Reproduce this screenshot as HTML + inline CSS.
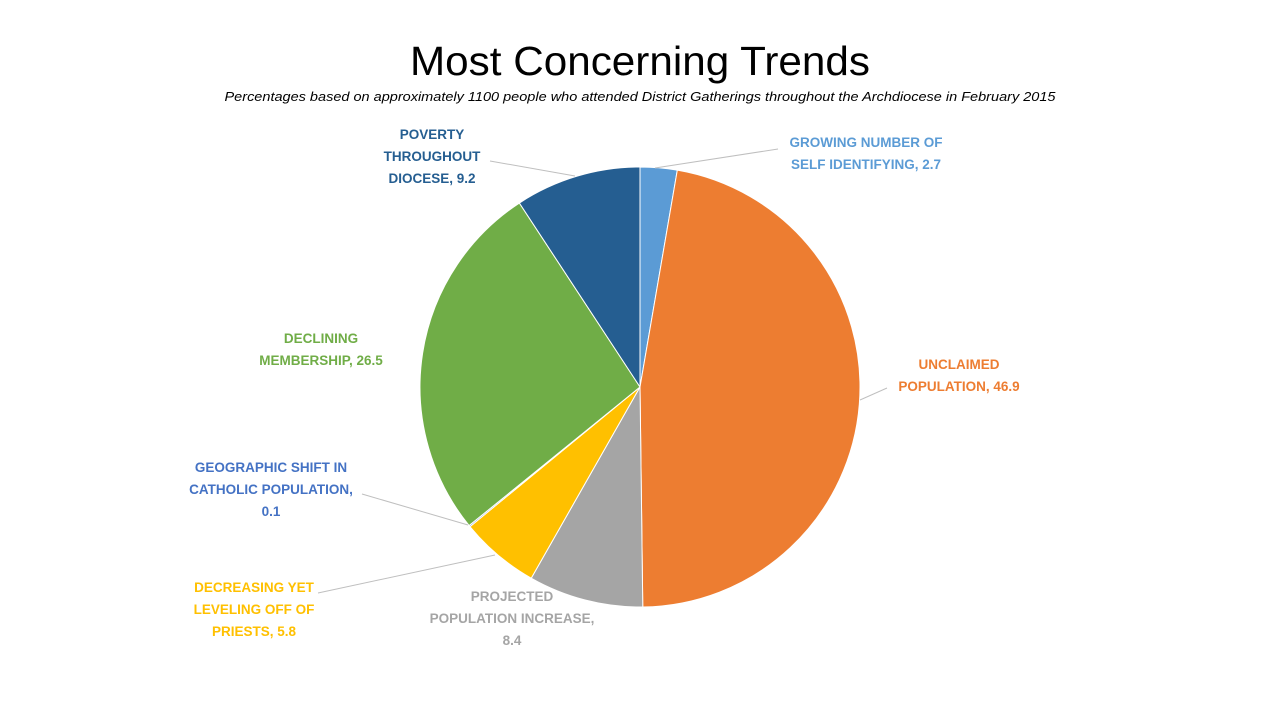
<!DOCTYPE html>
<html><head><meta charset="utf-8"><style>
html,body{margin:0;padding:0;background:#fff;}
svg{display:block;font-family:"Liberation Sans",sans-serif;}
.l{font-weight:bold;font-size:13.5px;text-anchor:middle;}
</style></head><body>
<svg id="s" width="1280" height="720" viewBox="0 0 1280 720">
<text x="640" y="75" font-size="41" text-anchor="middle" textLength="460" lengthAdjust="spacingAndGlyphs">Most Concerning Trends</text>
<text x="640" y="101" font-size="13" font-style="italic" text-anchor="middle" textLength="831" lengthAdjust="spacingAndGlyphs">Percentages based on approximately 1100 people who attended District Gatherings throughout the Archdiocese  in February 2015</text>
<g id="pie"></g>
<g stroke="#bfbfbf" stroke-width="1" fill="none">
<line x1="655" y1="168" x2="778" y2="149"/>
<line x1="860" y1="400" x2="887" y2="388"/>
<line x1="490" y1="161" x2="575" y2="176"/>
<line x1="362" y1="494" x2="468" y2="525"/>
<line x1="318" y1="593" x2="495" y2="555"/>
</g>
<g class="l">
<text x="866" y="147" fill="#5B9BD5">GROWING NUMBER OF</text>
<text x="866" y="169" fill="#5B9BD5">SELF IDENTIFYING, 2.7</text>
<text x="959" y="369" fill="#ED7D31">UNCLAIMED</text>
<text x="959" y="391" fill="#ED7D31">POPULATION, 46.9</text>
<text x="432" y="139" fill="#255E91">POVERTY</text>
<text x="432" y="161" fill="#255E91">THROUGHOUT</text>
<text x="432" y="183" fill="#255E91">DIOCESE, 9.2</text>
<text x="321" y="343" fill="#70AD47">DECLINING</text>
<text x="321" y="365" fill="#70AD47">MEMBERSHIP, 26.5</text>
<text x="271" y="472" fill="#4472C4">GEOGRAPHIC SHIFT IN</text>
<text x="271" y="494" fill="#4472C4">CATHOLIC POPULATION,</text>
<text x="271" y="516" fill="#4472C4">0.1</text>
<text x="254" y="592" fill="#FFC000">DECREASING YET</text>
<text x="254" y="614" fill="#FFC000">LEVELING OFF OF</text>
<text x="254" y="636" fill="#FFC000">PRIESTS, 5.8</text>
<text x="512" y="601" fill="#A5A5A5">PROJECTED</text>
<text x="512" y="623" fill="#A5A5A5">POPULATION INCREASE,</text>
<text x="512" y="645" fill="#A5A5A5">8.4</text>
</g>
</svg>
<script>
var v=[2.7,46.9,8.4,5.8,0.1,26.5,9.2],c=["#5B9BD5","#ED7D31","#A5A5A5","#FFC000","#4472C4","#70AD47","#255E91"];
var t=0,sum=v.reduce((a,b)=>a+b),cx=640,cy=387,r=220,h="";
for(var i=0;i<v.length;i++){var a0=t/sum*2*Math.PI;t+=v[i];var a1=t/sum*2*Math.PI;
var x0=cx+r*Math.sin(a0),y0=cy-r*Math.cos(a0),x1=cx+r*Math.sin(a1),y1=cy-r*Math.cos(a1);
h+='<path d="M'+cx+','+cy+'L'+x0+','+y0+'A'+r+','+r+' 0 '+((a1-a0)>Math.PI?1:0)+' 1 '+x1+','+y1+'Z" fill="'+c[i]+'" stroke="#fff" stroke-width="1"/>';}
document.getElementById("pie").innerHTML=h;
</script>
</body></html>
